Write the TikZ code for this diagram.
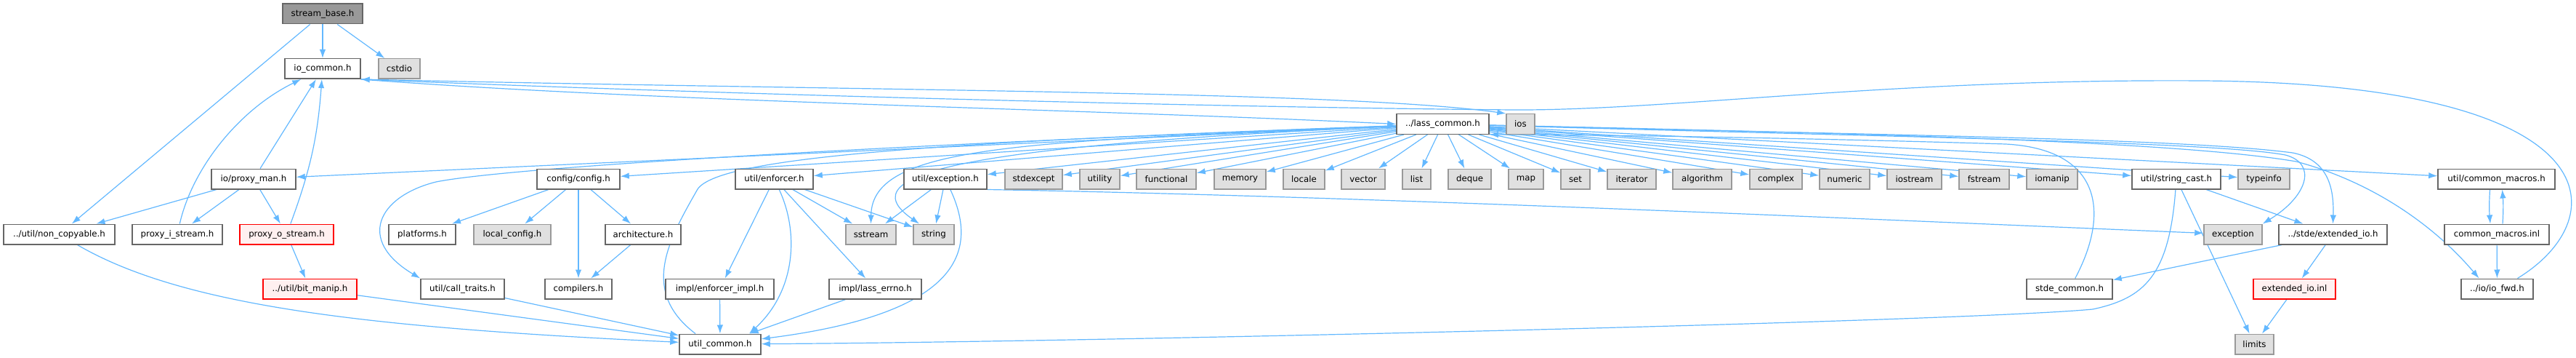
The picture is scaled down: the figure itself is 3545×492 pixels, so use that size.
\documentclass[tikz,border=0pt]{standalone}
\usepackage{fontspec}
\setmainfont{DejaVu Sans}
\usetikzlibrary{arrows.meta,backgrounds}
\definecolor{edgeblue}{HTML}{63B8FF}
\definecolor{boxgray}{HTML}{666666}
\definecolor{sysgray}{HTML}{999999}
\definecolor{sysfill}{HTML}{E0E0E0}
\definecolor{rootfill}{HTML}{999999}
\definecolor{truncred}{HTML}{FF0000}
\definecolor{truncfill}{HTML}{FFF0F0}

\begin{document}
\begin{tikzpicture}
	[   x=1pt,y=-1pt,
	    fnode/.style={draw=boxgray,fill=white,line width=1.5pt,minimum width=#1,minimum height=27.5pt,inner sep=0pt,font=\fontsize{11.8}{13}\selectfont},
	    sysnode/.style={fnode=#1,draw=sysgray,fill=sysfill},
	    rootnode/.style={fnode=#1,fill=rootfill},
	    trunc/.style={fnode=#1,draw=truncred,fill=truncfill},
	]
	\tikzset{inc arrow/.style={draw=edgeblue,line width=1.2pt,-{Latex[length=12pt,width=8.5pt]}}}
	\useasboundingbox (0,0) rectangle (3545,492);
	
	% top part
	\node[rootnode=110] (stream_base) at (444,19) {stream\_base.h};
	\node[fnode=104] (io_common) at (444,94.5) {io\_common.h};
	\node[sysnode=57] (cstdio) at (549.5,94.5) {cstdio};
	\node[fnode=127] (lass_common) at (1985.5,170.5) {../lass\_common.h};
	\node[sysnode=39] (ios) at (2092.5,170.5) {ios};
	
	% row of direct includes
	\node[fnode=116] (proxy_man) at (349,246) {io/proxy\_man.h};
	\node[fnode=114] (config) at (796,246) {config/config.h};
	\node[fnode=107] (enforcer) at (1065.5,246) {util/enforcer.h};
	\node[fnode=114] (exception_h) at (1301,246) {util/exception.h};
	\foreach \f/\x/\w in {stdexcept/1422.5/79, utility/1513.5/55, functional/1605/82, memory/1706.5/71, locale/1794.5/57, vector/1876/60, list/1949.5/39, deque/2022.5/59, map/2100/48, set/2168/40, iterator/2245.5/67, algorithm/2342.5/81, complex/2444/72, numeric/2538.5/69, iostream/2634.5/75, fstream/2730.5/69, iomanip/2824/70}
	{
		\node[sysnode=\w] (\f) at (\x,246) {\f};
	}
	\node[fnode=122] (string_cast) at (2995,246) {util/string\_cast.h};
	\node[sysnode=71] (typeinfo) at (3115.5,246) {typeinfo};
	\node[fnode=161] (common_macros_h) at (3435.5,246) {util/common\_macros.h};
	
	\node[fnode=153] (non_copyable) at (81.5,322) {../util/non\_copyable.h};
	\node[fnode=124] (proxy_i) at (244,322) {proxy\_i\_stream.h};
	\node[trunc=129] (proxy_o) at (394.5,322) {proxy\_o\_stream.h};
	\node[fnode=92] (platforms) at (581,322) {platforms.h};
	\node[sysnode=106] (local_config) at (705,322) {local\_config.h};
	\node[fnode=104] (architecture) at (885,322) {architecture.h};
	\node[sysnode=69] (sstream) at (1198.5,322) {sstream};
	\node[sysnode=56] (string) at (1285,322) {string};
	\node[sysnode=80] (exception) at (3073,322) {exception};
	\node[fnode=149] (extended_io_h) at (3210.5,322) {../stde/extended\_io.h};
	\node[fnode=144] (common_macros_inl) at (3436,322) {common\_macros.inl};
	
	\node[trunc=129] (bit_manip) at (426.5,397) {../util/bit\_manip.h};
	\node[fnode=115] (call_traits) at (636.5,397) {util/call\_traits.h};
	\node[fnode=92] (compilers) at (796,397) {compilers.h};
	\node[fnode=149] (enforcer_impl) at (990.5,397) {impl/enforcer\_impl.h};
	\node[fnode=127] (lass_errno) at (1204.5,397) {impl/lass\_errno.h};
	\node[fnode=118] (stde_common) at (2848,397) {stde\_common.h};
	\node[trunc=113] (extended_io_inl) at (3157.5,397) {extended\_io.inl};
	\node[fnode=99] (io_fwd) at (3436.5,397) {../io/io\_fwd.h};
	
	\node[fnode=112] (util_common) at (991,473) {util\_common.h};
	\node[sysnode=53] (limits) at (3102.5,473) {limits};
	
	\begin{pgfonlayer}{background}
	% stream_base.h and io_common.h
	\path[inc arrow] (stream_base) -- (io_common);
	\path[inc arrow] (stream_base) -- (cstdio);
	\path[inc arrow] (stream_base) -- (non_copyable);
	\path[inc arrow] (io_common.south east) .. controls (900,140) and (1500,150) .. (lass_common.west);
	\path[inc arrow] (io_common.south east) .. controls (1200,125) and (1850,125) .. (ios.north west);
	\path[inc arrow] ([xshift=28pt]io_fwd.north) .. controls (3600,300) and (3600,115) .. (3030,111) .. controls (2600,108) and (2300,152) .. (2083,151) .. controls (1700,148) and (1000,130) .. (io_common.south east);
	
	% proxies
	\path[inc arrow] (proxy_man) -- (io_common);
	\path[inc arrow] (proxy_i) .. controls (265,230) and (330,150) .. (io_common);
	\path[inc arrow] (proxy_o) to[bend right=8] (io_common);
	\path[inc arrow] (proxy_man) -- (non_copyable);
	\path[inc arrow] (proxy_man) -- (proxy_i);
	\path[inc arrow] (proxy_man) -- (proxy_o);
	\path[inc arrow] (proxy_o) -- (bit_manip);
	
	% everything lass_common.h pulls in
	\foreach \f in {proxy_man,config,enforcer,exception_h,stdexcept,utility,functional,memory,locale,vector,list,deque,map,set,iterator,algorithm,complex,numeric,iostream,fstream,iomanip,string_cast,typeinfo,common_macros_h}
	{
		\path[inc arrow] (lass_common) -- (\f);
	}
	\path[inc arrow] (lass_common) .. controls (1200,200) and (700,230) .. (600,250) .. controls (520,270) and (490,330) .. (call_traits.north west);
	\path[inc arrow] (lass_common) .. controls (1400,195) and (1200,200) .. (sstream.north);
	\path[inc arrow] (lass_common) .. controls (1350,200) and (1160,235) .. ([xshift=-20pt]string.north);
	\path[inc arrow] (lass_common) .. controls (2600,188) and (3050,195) .. (3145,213) .. controls (3190,225) and (3175,270) .. (exception.north east);
	\path[inc arrow] (lass_common) .. controls (2600,186) and (3000,190) .. (3155,210) .. controls (3205,220) and (3212,260) .. (extended_io_h.north);
	\path[inc arrow] (lass_common) .. controls (2600,184) and (3000,195) .. (3160,222) .. controls (3265,250) and (3350,310) .. ([xshift=-25pt]io_fwd.north);
	\path[inc arrow] ([xshift=-34pt]util_common.north) .. controls (880,400) and (920,330) .. (960,260) .. controls (990,215) and (1300,195) .. (lass_common);
	\path[inc arrow] (stde_common) .. controls (2905,290) and (2890,205) .. (2760,198) .. controls (2500,190) and (2200,185) .. (lass_common.south east);
	
	% config
	\path[inc arrow] (config) -- (platforms);
	\path[inc arrow] (config) -- (local_config);
	\path[inc arrow] (config) -- (compilers);
	\path[inc arrow] (config) -- (architecture);
	\path[inc arrow] (architecture) -- (compilers);
	
	% enforcer and exception
	\path[inc arrow] (enforcer) -- (enforcer_impl);
	\path[inc arrow] (enforcer) .. controls (1100,320) and (1095,400) .. ([xshift=40pt]util_common.north);
	\path[inc arrow] (enforcer) -- (lass_errno);
	\path[inc arrow] (enforcer) -- (sstream);
	\path[inc arrow] (enforcer) -- (string);
	\path[inc arrow] (exception_h) -- (sstream);
	\path[inc arrow] (exception_h) -- (string);
	\path[inc arrow] (exception_h) .. controls (1345,340) and (1330,430) .. (util_common);
	\path[inc arrow] (exception_h.south east) .. controls (1900,270) and (2650,305) .. (exception);
	
	% into util_common.h
	\path[inc arrow] (enforcer_impl) -- (util_common);
	\path[inc arrow] (lass_errno) -- (util_common);
	\path[inc arrow] (call_traits) -- (util_common);
	\path[inc arrow] (bit_manip) -- (util_common);
	\path[inc arrow] (non_copyable) .. controls (250,420) and (500,450) .. (util_common);
	\path[inc arrow] (string_cast) .. controls (2985,380) and (2950,410) .. (2880,425) .. controls (2700,442) and (1500,470) .. (util_common);
	
	% right part
	\path[inc arrow] (string_cast) -- (extended_io_h);
	\path[inc arrow] (string_cast) -- (limits);
	\path[inc arrow] (extended_io_h) -- (stde_common);
	\path[inc arrow] (extended_io_h) -- (extended_io_inl);
	\path[inc arrow] (extended_io_inl) -- (limits);
	\path[inc arrow] ([xshift=-9pt]common_macros_h.south) to[bend right=4] ([xshift=-9pt]common_macros_inl.north);
	\path[inc arrow] ([xshift=8pt]common_macros_inl.north) to[bend right=4] ([xshift=8pt]common_macros_h.south);
	\path[inc arrow] (common_macros_inl) -- (io_fwd);
	\end{pgfonlayer}
\end{tikzpicture}
\end{document}
